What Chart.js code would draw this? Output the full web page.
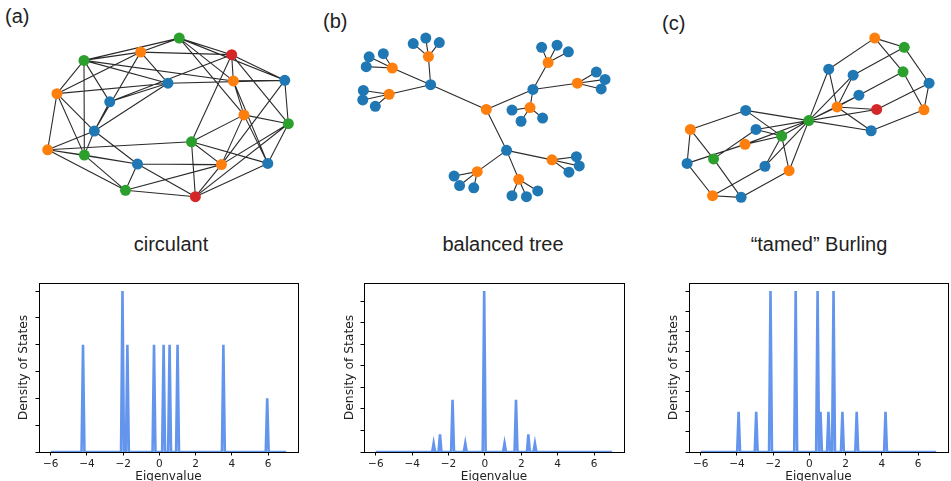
<!DOCTYPE html>
<html>
<head>
<meta charset="utf-8">
<script src="https://cdn.jsdelivr.net/npm/chart.js@4.4.1/dist/chart.umd.min.js"></script>
<style>
html, body { margin:0; padding:0; background:#fff; width:951px; height:481px; overflow:hidden; }
body { position:relative; }
canvas { position:absolute; }
.lab { position:absolute; font-family:"Liberation Sans", Arial, sans-serif; color:#222; white-space:nowrap; line-height:1; }
.ttl { position:absolute; font-family:"Liberation Sans", Arial, sans-serif; color:#222; white-space:nowrap; line-height:1; font-size:20px; transform:translateX(-50%); }
</style>
</head>
<body>
<div class="lab" style="left:5px;top:6px;font-size:20px">(a)</div>
<div class="lab" style="left:323px;top:11px;font-size:20px">(b)</div>
<div class="lab" style="left:662px;top:13px;font-size:20px">(c)</div>
<div class="ttl" style="left:171px;top:234px">circulant</div>
<div class="ttl" style="left:503px;top:234px">balanced tree</div>
<div class="ttl" style="left:819px;top:234px">“tamed” Burling</div>

<canvas id="ga" width="317" height="225" style="left:0;top:0"></canvas>
<canvas id="gb" width="317" height="225" style="left:317px;top:0"></canvas>
<canvas id="gc" width="317" height="225" style="left:634px;top:0"></canvas>
<canvas id="da" width="310" height="214" style="left:0;top:270px"></canvas>
<canvas id="db" width="320" height="214" style="left:320px;top:270px"></canvas>
<canvas id="dc" width="311" height="214" style="left:640px;top:270px"></canvas>

<script>
// ---- (a) circulant graph, layout positions ----
const circX = [180, 140, 234.3, 81.3, 168.3, 236, 289.3, 53.3, 108, 247, 293, 92, 192.7, 43.7, 81.7, 136.7, 223.7, 271.7, 124.3, 196.7];
const circY = [34.3, 49, 51.7, 57.7, 81.7, 79.3, 78.7, 92.7, 101.3, 115, 124.3, 132, 143.3, 151.7, 157.3, 166.7, 167.3, 166, 194.3, 201];
const circCol = ['g','o','r','g','b','o','b','o','b','o','g','b','g','o','g','b','o','b','g','r'];
const circEdges = [
  [0,1],[0,2],[0,3],[0,6],[0,9],[0,5],
  [1,2],[1,3],[1,4],[1,7],[1,11],
  [2,5],[2,6],[2,12],[2,8],[2,10],
  [3,5],[3,7],[3,8],[3,4],[3,14],
  [4,6],[4,8],[4,11],[4,7],
  [5,6],[5,9],[5,17],
  [6,10],[6,16],
  [7,11],[7,13],[7,14],
  [8,11],
  [9,10],[9,12],[9,16],[9,17],
  [10,16],[10,17],[10,19],
  [11,13],[11,14],[11,15],
  [12,16],[12,17],[12,19],[12,13],
  [13,14],[13,15],[13,18],
  [14,18],[14,15],
  [15,18],[15,16],[15,19],
  [16,19],[16,18],[17,19],[18,19]
];

// ---- (b) balanced tree ----
const treeX = [486.7, 429, 535, 507.7, 426.7, 389.3, 386, 550.7, 581, 532, 554.7, 520.3, 477.3,
  411, 424, 438, 365.3, 380, 362.3, 359.3, 358.7, 371.7, 544, 560, 571.7, 600.7, 609.7, 605.7,
  513.3, 522.7, 545, 580, 583, 572.3, 513.3, 528.3, 540, 453.3, 459, 473.7];
const treeY = [109.3, 83.3, 88.3, 152.3, 53.7, 65.7, 93.3, 60, 81.7, 107.3, 162.3, 182.7, 174.7,
  40, 34.3, 39, 54, 50.7, 64.3, 89.3, 99.3, 106, 44, 41.7, 48.7, 70, 77.7, 87.7,
  110, 121.7, 118.3, 159, 168.7, 175.3, 200, 201, 195, 179.3, 189.3, 191.7];
const treeParent = [-1, 0, 0, 0, 1, 1, 1, 2, 2, 2, 3, 3, 3,
  4, 4, 4, 5, 5, 5, 6, 6, 6, 7, 7, 7, 8, 8, 8, 9, 9, 9, 10, 10, 10, 11, 11, 11, 12, 12, 12];
const treeCol = ['o','b','b','b','o','o','o','o','o','o','o','o','o',
  'b','b','b','b','b','b','b','b','b','b','b','b','b','b','b','b','b','b','b','b','b','b','b','b','b','b','b'];

// ---- (c) "tamed" Burling graph ----
const burX = [809.3, 877.7, 908.3, 830, 855.3, 907, 934, 861.3, 838.7, 879.7, 928.7, 874,
  744, 686.7, 754.7, 781.3, 743.3, 710.7, 683.3, 764, 789, 709.7, 739.3];
const burY = [121, 34.3, 44, 67, 73.3, 69.7, 81.7, 94.3, 106.7, 109.3, 109.7, 131.7,
  110.3, 130.3, 130.3, 137.3, 146, 161.3, 166, 169, 173.7, 200, 201.7];
const burCol = ['g','o','g','b','b','g','b','b','o','r','o','b',
  'b','o','b','g','o','g','b','b','o','o','b'];
const burEdges = [
  [1,2],[2,6],[6,10],[10,5],[5,1],
  [3,1],[4,2],[7,5],[9,6],[11,10],
  [8,3],[8,4],[8,7],[8,9],[8,11],[8,0],
  [0,3],[0,4],[0,7],[0,9],[0,11],
  [13,18],[18,21],[21,22],[22,17],[17,13],
  [12,13],[16,18],[19,21],[20,22],[14,17],
  [15,12],[15,14],[15,16],[15,19],[15,20],[15,0],
  [0,12],[0,14],[0,16],[0,19],[0,20]
];

// ---- density of states: peak eigenvalues and heights ----
const dosA_x = [-4.22, -2.04, -1.77, -0.30, 0.23, 0.56, 1.00, 3.53, 5.95];
const dosA_h = [4, 6, 4, 4, 4, 4, 4, 4, 2];
const dosB_x = [-2.82, -2.47, -1.78, -1.08, -0.04, 1.08, 1.71, 2.39, 2.75];
const dosB_h = [0.40, 0.82, 2.42, 0.40, 7.47, 0.40, 2.42, 0.82, 0.40];
const dosC_x = [-3.91, -2.94, -2.15, -0.76, 0.45, 0.61, 1.05, 1.33, 1.82, 2.61, 4.20];
const dosC_h = [2, 2, 8, 8, 8, 2, 2, 8, 2, 2, 2];
const xTicks = [-6, -4, -2, 0, 2, 4, 6];

const PAL = { b:'#1f77b4', o:'#ff7f0e', g:'#2ca02c', r:'#d62728' };

function graphChart(id, x0, x1, xs, ys, cols, edges) {
  const nodes = xs.map((x, i) => ({ x: x, y: ys[i] }));
  const lines = [];
  edges.forEach(e => {
    lines.push({ x: xs[e[0]], y: ys[e[0]] }, { x: xs[e[1]], y: ys[e[1]] }, { x: NaN, y: NaN });
  });
  new Chart(document.getElementById(id), {
    type: 'scatter',
    data: { datasets: [
      { data: nodes, pointRadius: 5.5, pointBorderWidth: 0,
        pointBackgroundColor: cols.map(c => PAL[c]), order: 0 },
      { data: lines, showLine: true, spanGaps: false, borderColor: 'rgba(25,25,25,0.92)',
        borderWidth: 1.1, pointRadius: 0, order: 1 }
    ]},
    options: {
      responsive: false, animation: false, events: [],
      layout: { padding: 0 },
      plugins: { legend: { display: false }, tooltip: { enabled: false } },
      scales: {
        x: { type: 'linear', display: false, min: x0, max: x1 },
        y: { type: 'linear', display: false, min: 0, max: 225, reverse: true }
      }
    }
  });
}

const boxPlugin = {
  id: 'box',
  afterDraw(chart) {
    const a = chart.chartArea, ctx = chart.ctx;
    ctx.save();
    ctx.strokeStyle = '#000';
    ctx.lineWidth = 1;
    ctx.strokeRect(Math.round(a.left) + 0.5, Math.round(a.top) + 0.5,
      Math.round(a.right) - Math.round(a.left), Math.round(a.bottom) - Math.round(a.top));
    ctx.restore();
  }
};

function fmt(v) { return v < 0 ? '\u2212' + Math.abs(v) : String(v); }

function dosChart(id, px, ph, yMax, yW, padR, titlePad) {
  const pts = [{ x: -6, y: 0 }];
  const w = 0.08;
  px.forEach((p, i) => { pts.push({ x: p - w, y: 0 }, { x: p, y: ph[i] }, { x: p + w, y: 0 }); });
  pts.push({ x: 7, y: 0 });
  new Chart(document.getElementById(id), {
    type: 'line',
    data: { datasets: [{ data: pts, borderColor: 'rgb(100,149,237)', borderWidth: 2.6,
      pointRadius: 0, tension: 0, fill: false }] },
    options: {
      responsive: false, animation: false, events: [],
      layout: { padding: { top: 13, right: padR, left: 0, bottom: 0 } },
      plugins: { legend: { display: false }, tooltip: { enabled: false } },
      scales: {
        x: { type: 'linear', min: -6.65, max: 7.65,
          afterBuildTicks: s => { s.ticks = xTicks.map(v => ({ value: v })); },
          ticks: { autoSkip: false, maxRotation: 0, padding: 2, color: '#222',
            font: { family: 'DejaVu Sans', size: 10.5 }, callback: v => fmt(v) },
          grid: { drawOnChartArea: false, drawTicks: true, tickLength: 3.5, color: '#000' },
          border: { display: true, color: '#000', width: 1 },
          title: { display: true, text: 'Eigenvalue', color: '#222',
            font: { family: 'DejaVu Sans', size: 12 }, padding: { top: 0, bottom: 0 } },
          afterFit: s => { s.height = 32; } },
        y: { type: 'linear', min: 0, max: yMax,
          ticks: { stepSize: 1, includeBounds: false, padding: 0, callback: () => '',
            font: { size: 1 } },
          grid: { drawOnChartArea: false, drawTicks: true, tickLength: 3.5, color: '#000' },
          border: { display: true, color: '#000', width: 1 },
          title: { display: true, text: 'Density of States', color: '#222',
            font: { family: 'DejaVu Sans', size: 12.3 }, padding: { top: titlePad, bottom: 0 } },
          afterFit: s => { s.width = yW; } }
      }
    },
    plugins: [boxPlugin]
  });
}

graphChart('ga', 0, 317, circX, circY, circCol, circEdges);
graphChart('gb', 317, 634, treeX, treeY, treeCol,
  treeParent.map((p, i) => [p, i]).filter(e => e[0] >= 0));
graphChart('gc', 634, 951, burX, burY, burCol, burEdges);

dosChart('da', dosA_x, dosA_h, 6.3, 39, 12, 16);
dosChart('db', dosB_x, dosB_h, 7.84, 44, 16, 22);
dosChart('dc', dosC_x, dosC_h, 8.4, 49, 3, 26);
</script>
</body>
</html>
